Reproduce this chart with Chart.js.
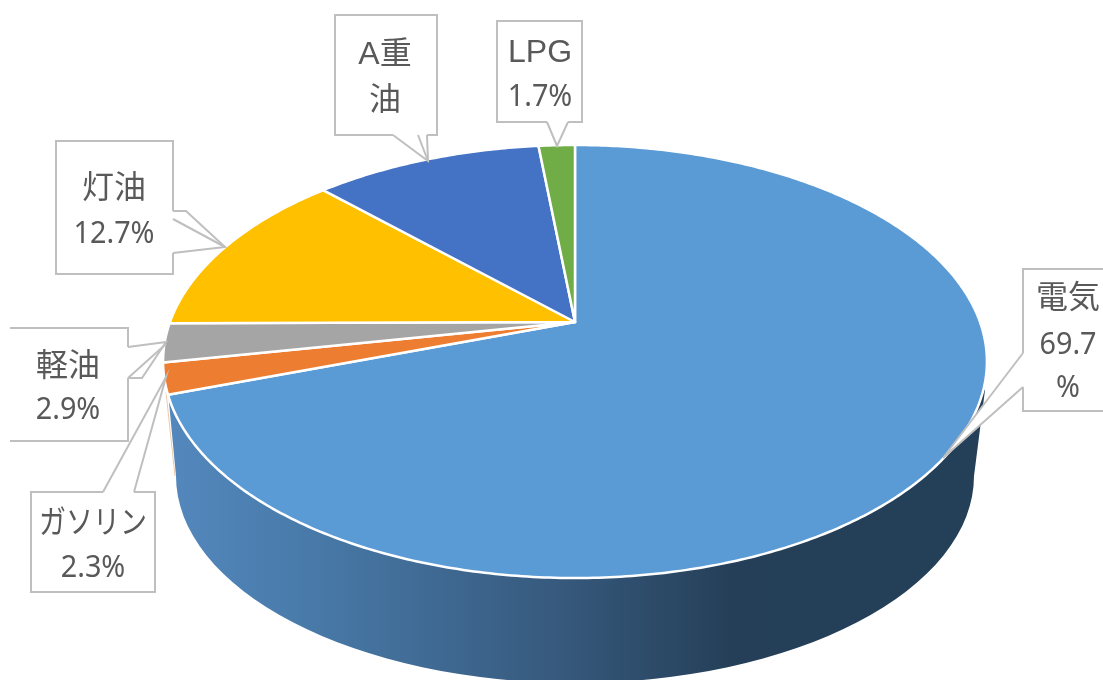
<!DOCTYPE html>
<html lang="ja">
<head>
<meta charset="utf-8">
<style>html,body{margin:0;padding:0;background:#fff}canvas{display:block}</style>
<script src="https://cdn.jsdelivr.net/npm/chart.js@4/dist/chart.umd.min.js"></script>
</head>
<body>
<canvas id="c" width="1103" height="680"></canvas>
<script>
const categories = ["電気", "ガソリン", "軽油", "灯油", "A重油", "LPG"];
const shares = [69.7, 2.3, 2.9, 12.7, 10.7, 1.7];
const sliceColors = ["#5B9BD5", "#ED7D31", "#A5A5A5", "#FFC000", "#4472C4", "#70AD47"];
const labelLines = [["電気", "69.7", "%"], ["ガソリン", "2.3%"], ["軽油", "2.9%"], ["灯油", "12.7%"], ["A重", "油"], ["LPG", "1.7%"]];

// Perspective of the tilted disc: the unit circle is mapped by a projective transform
const view = { cx: 575, cy: 322, a: 405, b: 209.3, k: 0.1825 };
const project = (t) => {
  const u = Math.cos(t), v = Math.sin(t), d = 1 - view.k * v;
  return [view.cx + view.a * u / d, view.cy + view.b * v / d];
};
// Lower rim of the disc's side wall
const wall = { cx: 575, cy: 476, rx: 399, ry: 207, topL: [168, 392], topR: [985, 390] };

// Callouts: box, pointer outline, extra pointer lines, text centres
const callouts = [
  { box: [1023, 269, 1140, 411], outline: [[1023,353],[943,458],[1023,387]], extra: [], cx: 1068, ys: [297, 344, 387] },
  { box: [31, 492, 155, 592], outline: [[103,492],[166,377],[134,492]], extra: [], cx: 93, ys: [522, 567], textWidth: 108 },
  { box: [10, 328, 128, 441], outline: [[128,347],[166,342],[142,378],[128,378]], extra: [[[128,378],[166,344]]], cx: 68, ys: [365, 409], openLeft: true },
  { box: [56, 141, 173, 274], outline: [[173,211],[186,211],[225,247],[173,253]], extra: [[[173,219],[225,247]]], cx: 114, ys: [187, 233] },
  { box: [335, 15, 437, 135], outline: [[393,135],[428,161],[427,135]], extra: [[[418,135],[428,161]]], cx: 385, ys: [53, 99] },
  { box: [497, 21, 582, 122], outline: [[547,122],[557,146],[568,122]], extra: [], cx: 540, ys: [51, 96] }
];

const disc3d = {
  id: "disc3d",
  beforeDatasetDraw(chart, args) {
    const ctx = chart.ctx, arcs = chart.getDatasetMeta(args.index).data;
    // side wall
    const g = ctx.createLinearGradient(170, 0, 985, 0);
    g.addColorStop(0, "#5487BC");
    g.addColorStop(0.14, "#4A7DAD");
    g.addColorStop(0.47, "#375A7E");
    g.addColorStop(0.69, "#253F58");
    g.addColorStop(1, "#243F58");
    ctx.save();
    ctx.beginPath();
    ctx.moveTo(wall.topL[0], wall.topL[1]);
    ctx.ellipse(wall.cx, wall.cy, wall.rx, wall.ry, 0, Math.PI, 0, true);
    ctx.lineTo(wall.topR[0], wall.topR[1]);
    ctx.lineTo(wall.cx, view.cy);
    ctx.closePath();
    ctx.fillStyle = g;
    ctx.fill();
    // faint edge of the orange slice wall
    ctx.beginPath();
    ctx.moveTo(wall.topL[0] - 2, wall.topL[1]);
    ctx.lineTo(wall.topL[0] + 7, wall.topL[1] + 84);
    ctx.strokeStyle = "#EFC9A8";
    ctx.lineWidth = 1;
    ctx.stroke();
    // top face: each slice from the library's own arc angles
    for (const arc of arcs) {
      const p = arc.getProps(["startAngle", "endAngle"], true);
      const steps = Math.max(2, Math.ceil((p.endAngle - p.startAngle) * 90));
      ctx.beginPath();
      ctx.moveTo(view.cx, view.cy);
      for (let i = 0; i <= steps; i++) {
        const q = project(p.startAngle + (p.endAngle - p.startAngle) * i / steps);
        ctx.lineTo(q[0], q[1]);
      }
      ctx.closePath();
      ctx.fillStyle = arc.options.backgroundColor;
      ctx.fill();
      ctx.strokeStyle = arc.options.borderColor;
      ctx.lineWidth = arc.options.borderWidth;
      ctx.lineJoin = "round";
      ctx.stroke();
    }
    ctx.restore();
    return false;
  },
  afterDatasetsDraw(chart) {
    const ctx = chart.ctx;
    const poly = (pts) => { ctx.beginPath(); pts.forEach((p, j) => j ? ctx.lineTo(p[0], p[1]) : ctx.moveTo(p[0], p[1])); };
    ctx.save();
    callouts.forEach((c, i) => {
      const [x0, y0, x1, y1] = c.box;
      ctx.strokeStyle = "#BFBFBF";
      ctx.lineWidth = 2;
      ctx.fillStyle = "#FFFFFF";
      // white box and pointer bodies
      poly(c.outline); ctx.closePath(); ctx.fill();
      ctx.fillRect(x0, y0, x1 - x0, y1 - y0);
      // box edge, leaving the pointer opening free
      const a = c.outline[0], b = c.outline[c.outline.length - 1];
      if (c.openLeft) {
        poly([[x0, y0], [x1, y0], [x1, a[1]]]); ctx.stroke();
        poly([[x1, b[1]], [x1, y1], [x0, y1]]); ctx.stroke();
      } else if (a[0] === b[0] && a[0] === x0) {      // opening on the left edge
        poly([[x0, a[1]], [x0, y0], [x1, y0], [x1, y1], [x0, y1], [x0, b[1]]]); ctx.stroke();
      } else if (a[0] === b[0]) {                     // opening on the right edge
        poly([[x1, a[1]], [x1, y0], [x0, y0], [x0, y1], [x1, y1], [x1, b[1]]]); ctx.stroke();
      } else if (a[1] === y0) {                       // opening on the top edge
        poly([[a[0], y0], [x0, y0], [x0, y1], [x1, y1], [x1, y0], [b[0], y0]]); ctx.stroke();
      } else {                                        // opening on the bottom edge
        poly([[a[0], y1], [x0, y1], [x0, y0], [x1, y0], [x1, y1], [b[0], y1]]); ctx.stroke();
      }
      // pointer lines
      poly(c.outline); ctx.stroke();
      c.extra.forEach(l => { poly(l); ctx.stroke(); });
      // text
      ctx.fillStyle = "#595959";
      ctx.textAlign = "center";
      ctx.textBaseline = "middle";
      labelLines[i].forEach((t, j) => {
        const digits = /^[0-9.%]+$/.test(t);
        ctx.font = digits ? '30px "Noto Sans"' : '32px "Liberation Sans", "Noto Sans CJK JP"';
        const w = ctx.measureText(t).width;
        const fit = digits ? w * 0.96 : (c.textWidth && j === 0 ? c.textWidth : w);
        ctx.fillText(t, c.cx, c.ys[j] + (digits ? 1 : 2), fit);
      });
    });
    ctx.restore();
  }
};

new Chart(document.getElementById("c"), {
  type: "pie",
  data: {
    labels: categories,
    datasets: [{ data: shares, backgroundColor: sliceColors, borderColor: "#FFFFFF", borderWidth: 2.5 }]
  },
  options: {
    responsive: false,
    animation: false,
    plugins: { legend: { display: false }, tooltip: { enabled: false }, title: { display: false } }
  },
  plugins: [disc3d]
});
</script>
</body>
</html>
